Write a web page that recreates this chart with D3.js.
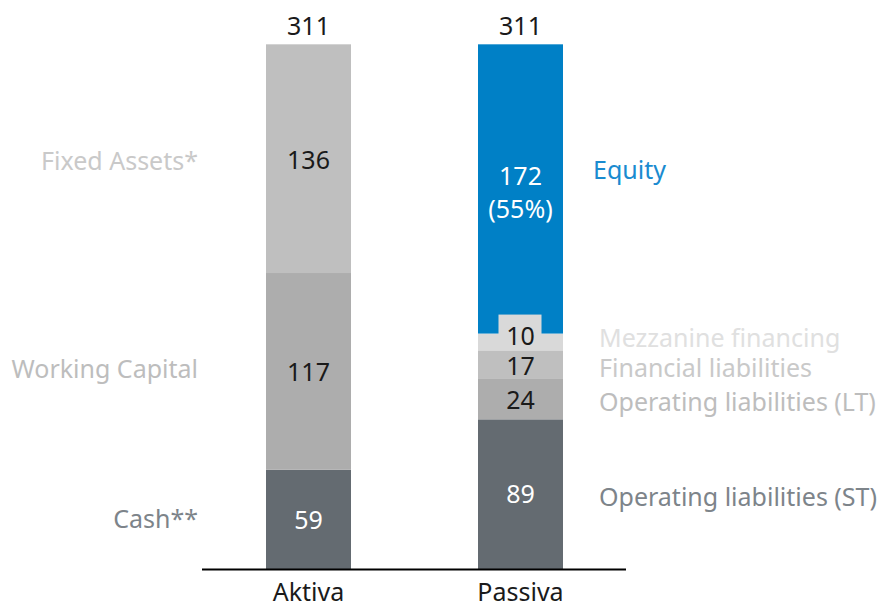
<!DOCTYPE html>
<html>
<head>
<meta charset="utf-8">
<script src="https://cdn.jsdelivr.net/npm/d3@7"></script>
<style>
  body { margin: 0; background: #fff; }
  text { font-family: "Noto Sans", "Open Sans", sans-serif; }
</style>
</head>
<body>
<div id="container"></div>
<script>
//---------------------
// DATA
//---------------------
const columns = ['Aktiva', 'Passiva'];
const totals = [311, 311];

// segments listed bottom -> top
const aktivaNames = ['Cash**', 'Working Capital', 'Fixed Assets*'];
const aktivaValues = [59, 117, 136];
const aktivaLabels = ['59', '117', '136'];

const passivaNames = ['Operating liabilities (ST)', 'Operating liabilities (LT)', 'Financial liabilities', 'Mezzanine financing', 'Equity'];
const passivaValues = [89, 24, 17, 10, 172];
const passivaLabels = [['89'], ['24'], ['17'], ['10'], ['172', '(55%)']];

//---------------------
// STYLES
//---------------------
const aktivaFill = ['#646b71', '#adadad', '#bfbfbf'];
const aktivaValueColor = ['#ffffff', '#1a1a1a', '#1a1a1a'];
const aktivaNameColor = ['#7d848a', '#bdbdbd', '#c9c9c9'];

const passivaFill = ['#646b71', '#adadad', '#bfbfbf', '#d9d9d9', '#0080c6'];
const passivaValueColor = ['#ffffff', '#1a1a1a', '#1a1a1a', '#1a1a1a', '#ffffff'];
const passivaNameColor = ['#7d848a', '#bdbdbd', '#c9c9c9', '#e0e0e0', '#1a8bd0'];

const width = 880, height = 607;
const baseY = 569, topY = 46;
const fontSize = 25;

const svg = d3.select('#container')
              .append('svg')
              .attr('width', width)
              .attr('height', height);

const y = d3.scaleLinear()
            .domain([0, 311])
            .range([baseY, topY]);

const x = d3.scaleBand()
            .domain(columns)
            .range([213, 616])
            .paddingInner(127 / 212)
            .paddingOuter(0.25);

function stackUp (values) {
  let acc = 0;
  return values.map(v => { const s = acc; acc += v; return [s, acc]; });
}

function drawColumn (col, values, fills) {
  const stacks = stackUp(values);
  svg.append('g')
     .selectAll('rect')
     .data(stacks)
     .enter()
     .append('rect')
     .attr('x', x(col))
     .attr('width', x.bandwidth())
     .attr('y', d => y(d[1]))
     .attr('height', d => y(d[0]) - y(d[1]))
     .attr('fill', (d, i) => fills[i]);
  return stacks;
}

const aStacks = drawColumn('Aktiva', aktivaValues, aktivaFill);
const pStacks = drawColumn('Passiva', passivaValues, passivaFill);

// value labels inside Aktiva
const aValueShift = [1, 1, 2];
svg.append('g')
   .selectAll('text')
   .data(aStacks)
   .enter()
   .append('text')
   .attr('x', x('Aktiva') + x.bandwidth() / 2)
   .attr('y', (d, i) => (y(d[0]) + y(d[1])) / 2 + aValueShift[i])
   .attr('dy', '0.35em')
   .attr('text-anchor', 'middle')
   .attr('font-size', fontSize)
   .attr('fill', (d, i) => aktivaValueColor[i])
   .text((d, i) => aktivaLabels[i]);

// name labels left of Aktiva
const aNameY = [519, 369, 161];
svg.append('g')
   .selectAll('text')
   .data(aktivaNames)
   .enter()
   .append('text')
   .attr('x', x('Aktiva') - 68)
   .attr('y', (d, i) => aNameY[i])
   .attr('dy', '0.35em')
   .attr('text-anchor', 'end')
   .attr('font-size', fontSize)
   .attr('fill', (d, i) => aktivaNameColor[i])
   .text(d => d);

// value labels inside Passiva
const pcx = x('Passiva') + x.bandwidth() / 2;
const pValueY = [494, 400, 366, 336, 176];

// background box behind the small mezzanine label
svg.append('rect')
   .attr('x', pcx - 22)
   .attr('width', 43)
   .attr('y', y(pStacks[3][1]) - 19)
   .attr('height', y(pStacks[3][0]) - y(pStacks[3][1]) + 19)
   .attr('fill', passivaFill[3]);

pStacks.forEach((d, i) => {
  const t = svg.append('text')
               .attr('text-anchor', 'middle')
               .attr('font-size', fontSize)
               .attr('fill', passivaValueColor[i]);
  passivaLabels[i].forEach((line, j) => {
    t.append('tspan')
     .attr('x', pcx)
     .attr('y', pValueY[i] + j * 33)
     .attr('dy', '0.35em')
     .text(line);
  });
});

// name labels right of Passiva
const pNameY = [497, 402, 368, 338, 170];
svg.append('g')
   .selectAll('text')
   .data(passivaNames)
   .enter()
   .append('text')
   .attr('x', (d, i) => i === 4 ? 593 : 599)
   .attr('y', (d, i) => pNameY[i])
   .attr('dy', '0.35em')
   .attr('font-size', fontSize)
   .attr('fill', (d, i) => passivaNameColor[i])
   .text(d => d);

// totals on top
svg.append('g')
   .selectAll('text')
   .data(columns)
   .enter()
   .append('text')
   .attr('x', d => x(d) + x.bandwidth() / 2)
   .attr('y', (d, i) => y(totals[i]) - 20)
   .attr('dy', '0.35em')
   .attr('text-anchor', 'middle')
   .attr('font-size', fontSize)
   .attr('fill', '#1a1a1a')
   .text((d, i) => totals[i]);

// baseline axis
const axis = d3.axisBottom(x).tickSize(0).tickPadding(14);
const gAxis = svg.append('g')
                 .attr('transform', `translate(0, ${baseY})`)
                 .call(axis);
gAxis.select('.domain')
     .attr('d', 'M202,0.5H626')
     .attr('stroke', '#000')
     .attr('stroke-width', 2);
gAxis.selectAll('text')
     .attr('font-size', fontSize)
     .attr('font-family', '"Noto Sans", "Open Sans", sans-serif')
     .attr('fill', '#1a1a1a');
</script>
</body>
</html>
